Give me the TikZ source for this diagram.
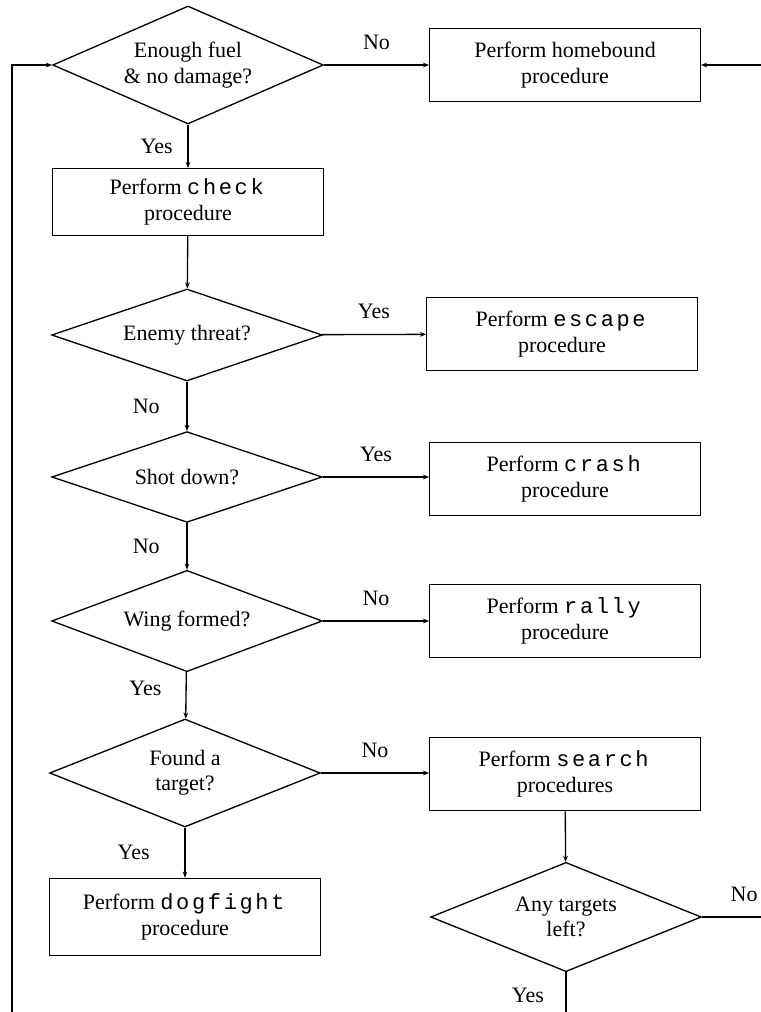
\documentclass[tikz,border=0pt]{standalone}
\usepackage{fontspec}
\setmainfont{Liberation Serif}
\setmonofont{Liberation Mono}[LetterSpace=12]
\usepackage{tikz}
\usetikzlibrary{shapes.geometric,arrows.meta}

\begin{document}
\begin{tikzpicture}[x=0.75pt,y=-0.75pt,
		font=\fontsize{16.5}{19}\selectfont,
		line width=1pt,
		decision/.style={diamond,draw,align=center,inner sep=0pt,aspect=2.5,
			minimum width=203pt,minimum height=#1},
		procbox/.style={rectangle,draw,align=center,
			minimum width=203pt,minimum height=55pt},
		flow/.style={-{Stealth[length=4.5pt,width=3.5pt]}},
		answer/.style={inner sep=0pt}]
		
		\useasboundingbox (0,0) rectangle (760,1012);
		
		\node[decision=88.5pt] (Fuel) at (188,65) {Enough fuel\\\& no damage?};
		\node[procbox] (Home) at (565,65) {Perform homebound\\procedure};
		\node[procbox,minimum height=50pt] (Check) at (188,202) {Perform \texttt{check}\\procedure};
		\node[decision=69pt] (Threat) at (187,335) {Enemy threat?};
		\node[procbox] (Escape) at (562,334) {Perform \texttt{escape}\\procedure};
		\node[decision=68pt] (Shot) at (187,477) {Shot down?};
		\node[procbox] (Crash) at (565,479) {Perform \texttt{crash}\\procedure};
		\node[decision=76pt] (Wing) at (187,621) {Wing formed?};
		\node[procbox] (Rally) at (565,621) {Perform \texttt{rally}\\procedure};
		\node[decision=81pt] (Found) at (185,773) {Found a\\target?};
		\node[procbox] (Search) at (565,774) {Perform \texttt{search}\\procedures};
		\node[procbox,minimum height=58pt] (Dogfight) at (185,917) {Perform \texttt{dogfight}\\procedure};
		\node[decision=82pt] (Any) at (566,917) {Any targets\\left?};
		
		\coordinate (LoopBottom) at (566,1030);
		\coordinate (LoopCorner) at (12,1030);
		\coordinate (RightLow) at (764,917);
		
		\draw[flow] (Fuel) -- node[answer,above=11pt] {No} (Home);
		\draw[flow] (Fuel) -- node[answer,left=11pt] {Yes} (Check);
		\draw[flow] (Check) -- (Threat);
		\draw[flow] (Threat) -- node[answer,above=11pt] {Yes} (Escape);
		\draw[flow] (Threat) -- node[answer,left=20pt] {No} (Shot);
		\draw[flow] (Shot) -- node[answer,above=11pt] {Yes} (Crash.west |- Shot);
		\draw[flow] (Shot) -- node[answer,left=20pt] {No} (Wing);
		\draw[flow] (Wing) -- node[answer,above=11pt] {No} (Rally);
		\draw[flow] (Wing) -- node[answer,left=18pt,pos=0.35] {Yes} (Found);
		\draw[flow] (Found) -- node[answer,above=11pt] {No} (Search.west |- Found);
		\draw[flow] (Found) -- node[answer,left=26pt] {Yes} (Dogfight);
		\draw[flow] (Search) -- (Any);
		\draw[flow] (Any) -- node[answer,above=11pt,pos=0.68] {No} (RightLow) |- (Home);
		\draw[flow] (Any) -- node[answer,left=16pt,pos=0.4] {Yes} (LoopBottom) -- (LoopCorner) |- (Fuel);
		
	\end{tikzpicture}
\end{document}
